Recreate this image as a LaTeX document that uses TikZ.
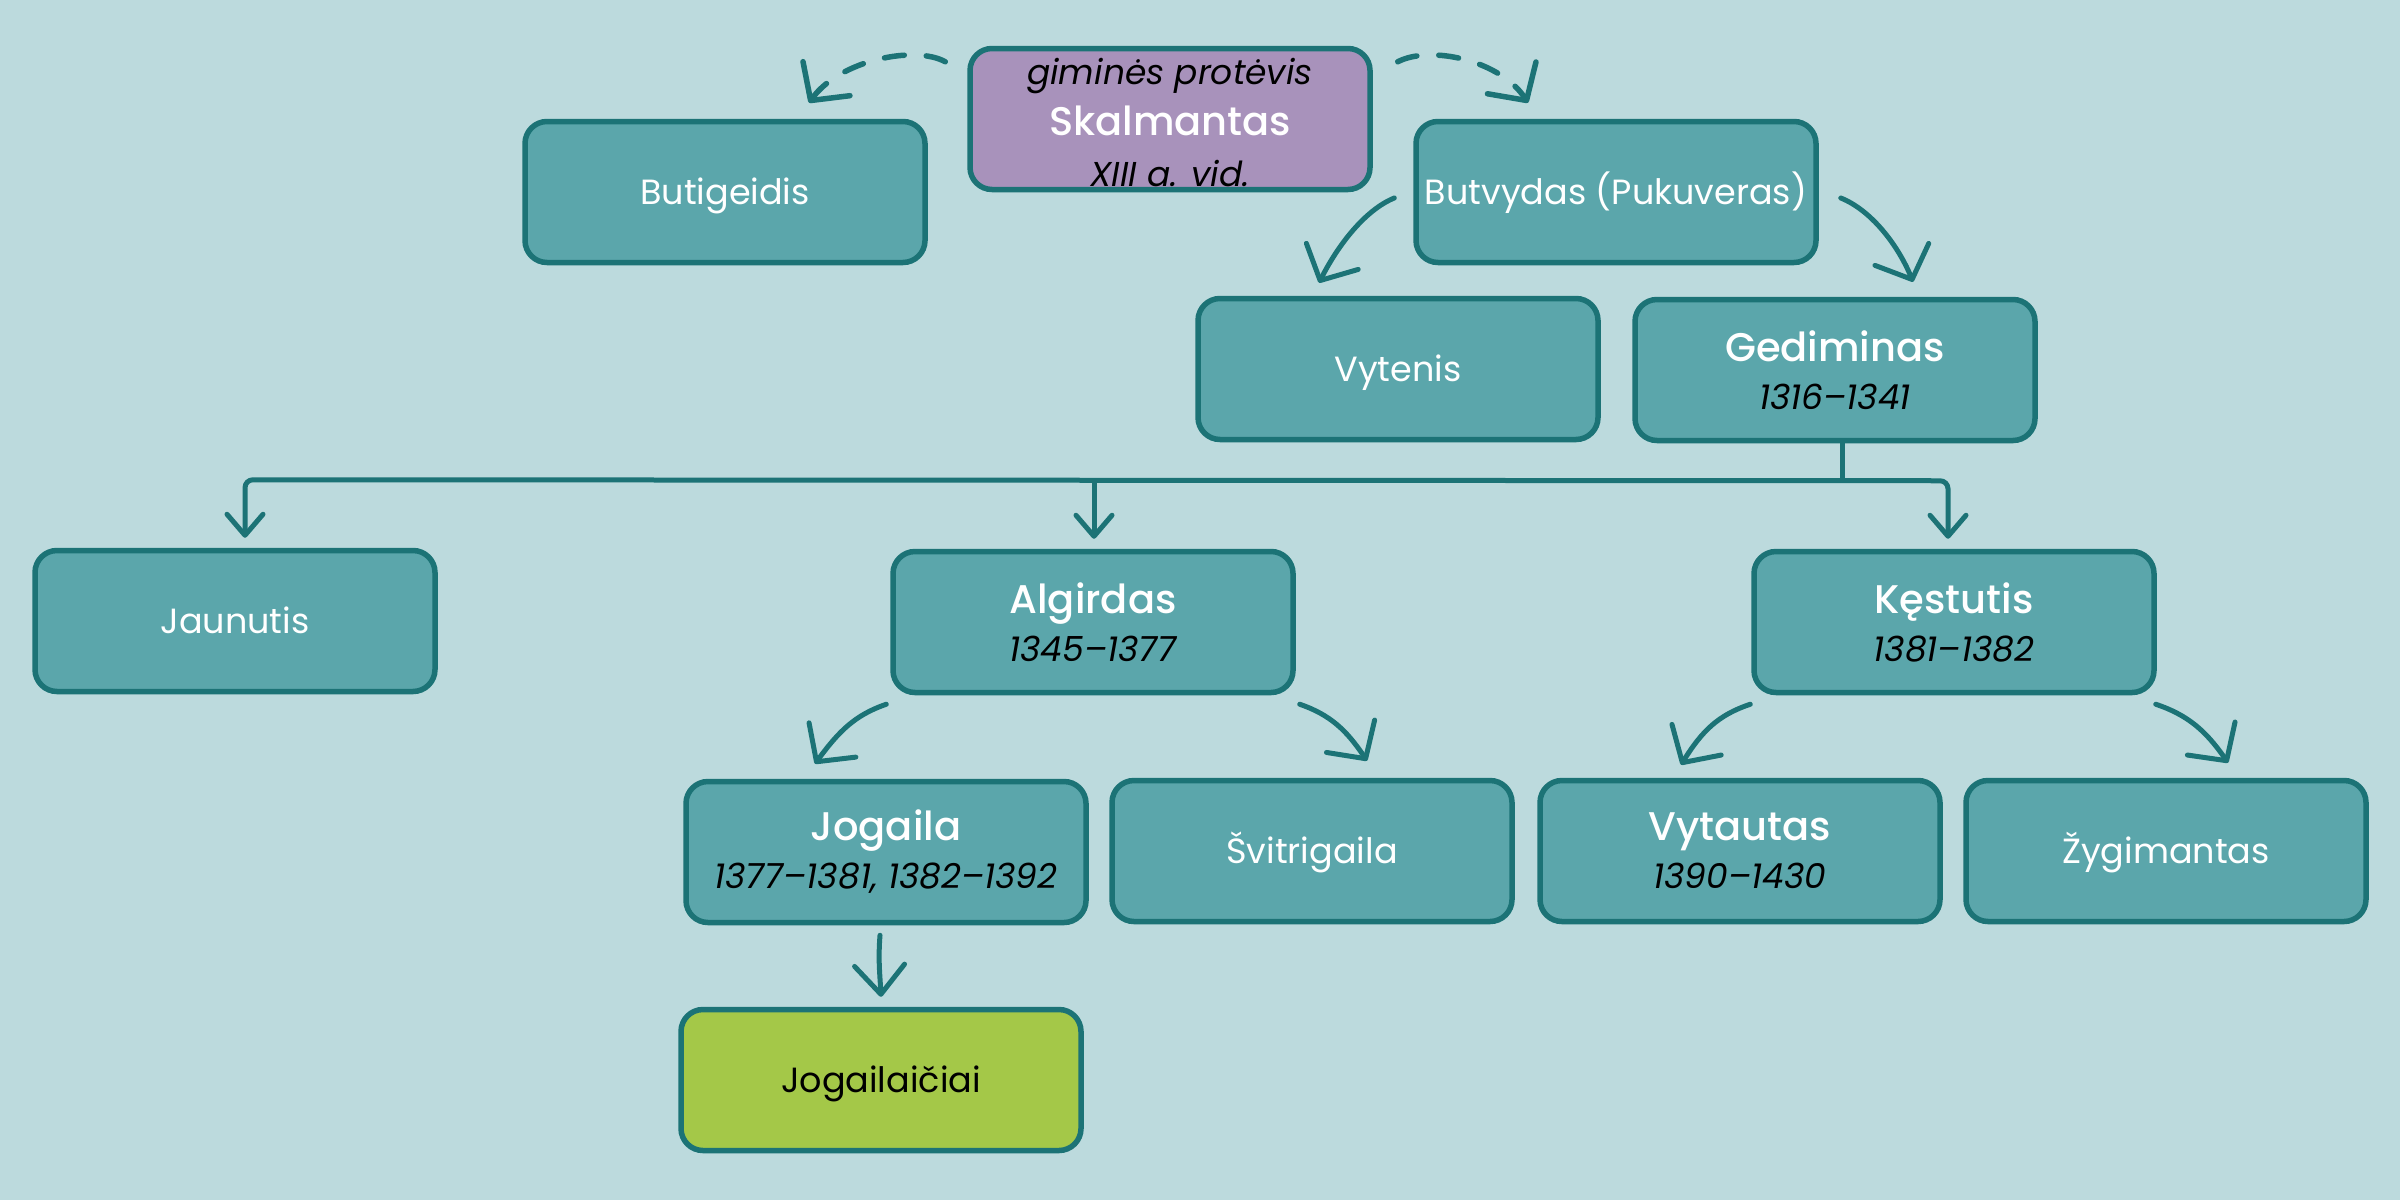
\documentclass[tikz,border=0pt]{standalone}
\usepackage{fontspec}
\setmainfont{Poppins}
\newfontfamily\pmed{Poppins Medium}
\usetikzlibrary{arrows.meta,calc}
\definecolor{bg}{RGB}{188,218,221}
\definecolor{boxfill}{RGB}{91,166,171}
\definecolor{edge}{RGB}{28,115,118}
\definecolor{purp}{RGB}{168,146,187}
\definecolor{lime}{RGB}{164,200,72}
\tikzset{
  barbL/.tip={Straight Barb[length=27pt,width=58pt,round]},
  barbS/.tip={Straight Barb[length=21pt,width=36pt,round]},
  barbM/.tip={Straight Barb[length=29pt,width=50pt,round]},
  box/.style={draw=edge, line width=5.5pt, fill=boxfill, rounded corners=22pt,
    minimum width=400pt, minimum height=141pt, inner sep=0pt, align=center,
    text=white, font=\fontsize{35}{48}\selectfont},
  single/.style={text height=25pt, text depth=0pt},
  conn/.style={draw=edge, line width=5pt, line cap=round, line join=round},
  dashconn/.style={conn, line width=5.5pt, dash pattern=on 20pt off 22pt}
}
\newcommand{\yrs}[1]{{\color{black}\itshape\fontsize{34.5}{48}\selectfont #1}}
\newcommand{\nm}[1]{{\pmed\fontsize{40}{48}\selectfont #1}}
\begin{document}
\begin{tikzpicture}[x=1pt,y=-1pt]
\fill[bg] (0,0) rectangle (2400,1200);
\useasboundingbox (0,0) rectangle (2400,1200);

\node[box, single] (butigeidis) at (725,192) {Butigeidis};
\node[box, fill=purp, font=\fontsize{35}{50}\selectfont] (skalmantas) at (1170,119)
  {\rule{0pt}{34pt}\yrs{giminės protėvis}\\[1pt]\nm{Skalmantas}\\[1pt]\yrs{XIII a. vid.}};
\node[box, single] (butvydas) at (1616,192) {Butvydas (Pukuveras)};
\node[box, single] (vytenis) at (1398,369) {Vytenis};
\node[box] (gediminas) at (1835,370) {\nm{Gediminas}\\\yrs{1316–1341}};
\node[box, single] (jaunutis) at (235,621) {Jaunutis};
\node[box] (algirdas) at (1093,622) {\nm{Algirdas}\\\yrs{1345–1377}};
\node[box] (kestutis) at (1954,622) {\nm{Kęstutis}\\\yrs{1381–1382}};
\node[box] (jogaila) at (886,852) {\nm{Jogaila}\\\yrs{1377–1381, 1382–1392}};
\node[box, single] (svitrigaila) at (1312,851) {Švitrigaila};
\node[box] (vytautas) at (1740,851) {\nm{Vytautas}\\\yrs{1390–1430}};
\node[box, single] (zygimantas) at (2166,851) {Žygimantas};
\node[box, single, fill=lime, text=black] (jogailaiciai) at (881,1080) {Jogailaičiai};

% dashed arrows from Skalmantas
\draw[dashconn,-barbL] ($(skalmantas.north west)+(-22,16)$)
  .. controls (915,45) and (840,60) .. ($(butigeidis.north)+(84,-16)$);
\draw[dashconn,-barbL] ($(skalmantas.north east)+(25,16)$)
  .. controls (1430,45) and (1500,60) .. ($(butvydas.north)+(-88,-16)$);

% Butvydas children
\draw[conn,-barbL] ($(butvydas.west)+(-19,6)$)
  .. controls (1365,210) and (1338,245) .. ($(vytenis.north)+(-79,-13)$);
\draw[conn,-barbL] ($(butvydas.east)+(22,6)$)
  .. controls (1871,210) and (1898,245) .. ($(gediminas.north)+(78,-15)$);

% Gediminas branch
\draw[conn] ($(gediminas.south)+(7,0)$) -- ($(gediminas.south)+(7,36)$);
\draw[conn, rounded corners=8pt, barbS-barbS] ($(jaunutis.north)+(10,-10)$)
  -- ($(jaunutis.north)+(10,-68)$) -- ($(kestutis.north)+(-6,-68)$)
  -- ($(kestutis.north)+(-6,-10)$);
\draw[conn,-barbS] ($(algirdas.north)+(1,-68)$) -- ($(algirdas.north)+(1,-10)$);

% Algirdas children
\draw[conn,-barbL] ($(algirdas.south west)+(-4,9)$)
  .. controls (855,715) and (839,731) .. ($(jogaila.north)+(-71,-15)$);
\draw[conn,-barbL] ($(algirdas.south east)+(4,9)$)
  .. controls (1331,715) and (1347,731) .. ($(svitrigaila.north)+(55,-17)$);

% Kestutis children
\draw[conn,-barbL] ($(kestutis.south west)+(-1,9)$)
  .. controls (1718,715) and (1702,731) .. ($(vytautas.north)+(-59,-13)$);
\draw[conn,-barbL] ($(kestutis.south east)+(-1,9)$)
  .. controls (2188,715) and (2206,731) .. ($(zygimantas.north)+(62,-15)$);

% Jogaila -> Jogailaiciai
\draw[conn,-barbM] ($(jogaila.south)+(-6,10)$) .. controls (878,960) and (880,975) .. ($(jogailaiciai.north)+(0,-10)$);
\end{tikzpicture}
\end{document}
